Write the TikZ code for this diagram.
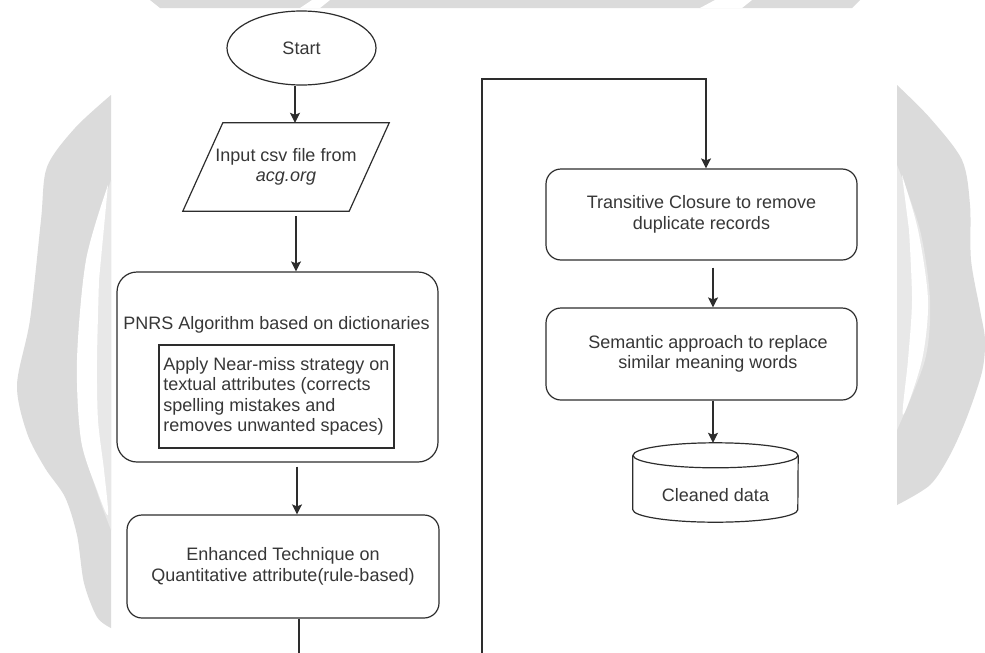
\documentclass[tikz,border=0pt]{standalone}
\usepackage{fontspec}
\setmainfont{Liberation Sans}
\usetikzlibrary{arrows.meta,calc,shapes.geometric}
\definecolor{wm}{RGB}{219,219,219}
\definecolor{wml}{RGB}{232,232,232}
\definecolor{ln}{RGB}{45,45,45}
\definecolor{tx}{RGB}{55,55,55}
\begin{document}
\begin{tikzpicture}[x=1pt,y=-1pt,
  txt/.style={text=tx, font=\fontsize{18}{20.5}\selectfont, align=center, inner sep=0pt},
  rbox/.style={txt, draw=ln, line width=1.2pt, rounded corners=15pt},
  sbox/.style={txt, draw=ln, line width=1.2pt},
  plain/.style={draw=ln, line width=1.2pt},
  arr/.style={draw=ln, line width=1.2pt, -{Stealth[length=10pt,width=10pt,inset=2pt]}}
]
\useasboundingbox (0,0) rectangle (985,653);
\fill[white] (0,0) rectangle (985,653);
% watermark background
\fill[wm] (150,0) -- (860,0) -- (852,8) -- (160,8) -- cycle;
\fill[white] (300,8) -- (312,0) -- (330,0) -- (320,8) -- cycle;
\fill[white] (700,8) -- (715,0) -- (752,0) -- (742,8) -- cycle;
\fill[wm] plot[smooth] coordinates {(111,95) (75,128) (47,167) (41,220) (30,320) (17,385) (27,433) (45,468) (65,497) (77,535) (84,583) (97,617) (111,628)} -- cycle;
\fill[wml] plot[smooth] coordinates {(111,180) (88,260) (78,360) (82,440) (98,495) (111,530)} -- cycle;
\fill[white] plot[smooth] coordinates {(108,185) (86,260) (77,360) (81,440) (97,490) (108,515) (104,470) (98,420) (97,360) (99,280)} -- cycle;
\fill[wm] plot[smooth] coordinates {(897,85) (930,118) (962,160) (970,205) (971,260) (980,310) (985,340) (982,372) (967,417) (950,455) (930,485) (897,505)} -- cycle;
\fill[wml] plot[smooth] coordinates {(897,165) (920,230) (930,300) (925,360) (897,430)} -- cycle;
\fill[white] plot[smooth] coordinates {(902,175) (918,230) (928,300) (922,360) (903,415) (908,360) (912,300) (909,230)} -- cycle;

% nodes
\node[txt, draw=ln, line width=1.2pt, ellipse, minimum width=149pt, minimum height=74pt] (start) at (301.5,48) {Start};
\node[txt, minimum width=166pt, minimum height=88pt] (input) at (286,167) {Input csv file from\\\textit{acg.org}};
\draw[plain] ([xshift=20pt]input.north west) -- ([xshift=20pt]input.north east) -- ([xshift=-20pt]input.south east) -- ([xshift=-20pt]input.south west) -- cycle;
\node[rbox, rounded corners=20pt, minimum width=321pt, minimum height=190pt] (pnrs) at (277.5,367) {};
\node[txt] (pnrst) at (276.5,325) {PNRS Algorithm based on dictionaries};
\node[sbox, align=left, minimum width=235pt, minimum height=103pt] (near) at (276.5,396.5) {Apply Near-miss strategy on\\textual attributes (corrects\\spelling mistakes and\\removes unwanted spaces)};
\node[rbox, minimum width=312pt, minimum height=103pt] (enh) at (283,566.5) {Enhanced Technique on\\Quantitative attribute(rule-based)};
\node[rbox, minimum width=311pt, minimum height=91pt] (trans) at (701.5,214.5) {Transitive Closure to remove\\duplicate records};
\node[rbox, minimum width=311pt, minimum height=92pt] (sem) at (701.5,354) {\hspace*{13pt}Semantic approach to replace\\\hspace*{13pt}similar meaning words};
\node[txt, minimum width=165pt, minimum height=54pt] (db) at (715.5,495) {Cleaned data};
\draw[plain, fill=white] ($(db.north)+(0,-12.5)$) ellipse [x radius=82.5pt, y radius=12.5pt];
\draw[plain] ($(db.north west)+(0,-12.5)$) -- ($(db.south west)+(0,-12.5)$) arc[start angle=180, end angle=360, x radius=82.5pt, y radius=12.5pt] -- ($(db.north east)+(0,-12.5)$);
\coordinate (dbtop) at ($(db.north)+(-2.5,-25)$);

% connectors
\draw[arr] ([xshift=-6.5pt]start.south) -- ([xshift=9pt]input.north);
\draw[arr] ([xshift=10pt,yshift=-5pt]input.south) -- ([xshift=18.5pt]pnrs.north);
\draw[arr] ([xshift=19.5pt,yshift=-4pt]pnrs.south) -- ([xshift=14pt]enh.north);
\coordinate (e0) at (299,653);
\draw[plain] (enh.south -| e0) -- (e0);
\coordinate (r0) at (482,653);
\coordinate (r1) at (482,79);
\coordinate (r2) at (706,79);
\draw[arr] (r0) -- (r1) -- (r2) -- (r2 |- trans.north);
\draw[arr] ([xshift=11.5pt,yshift=-7pt]trans.south) -- ([xshift=11.5pt]sem.north);
\draw[arr] ([xshift=11.5pt]sem.south) -- (dbtop);
\end{tikzpicture}
\end{document}
